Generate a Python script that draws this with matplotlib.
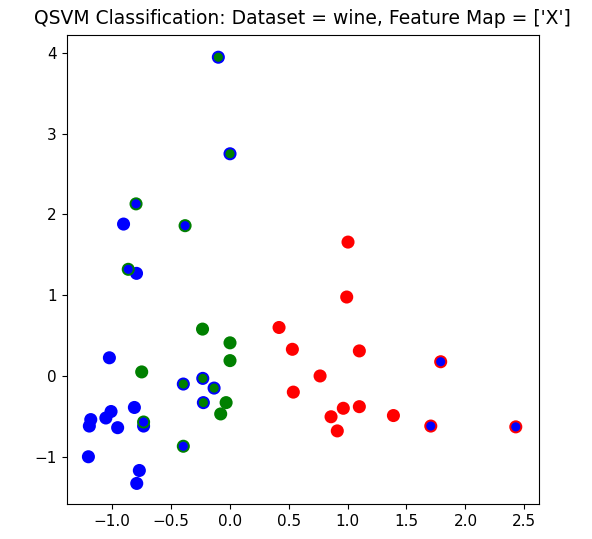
"""Resultado de clasificación QSVM sobre el dataset wine (2 componentes)."""

import matplotlib

matplotlib.use("Agg")
import matplotlib.pyplot as plt
import numpy as np

# colores por clase: 0 -> blue, 1 -> green, 2 -> red
class_colors = np.array(["blue", "green", "red"])

# coordenadas de los puntos de prueba
x_values = [
    -0.90, -0.79, -1.02, -0.808, -1.006, -1.05, -1.178, -1.19, -0.95, -0.73,
    -1.198, -0.766, -0.788,
    -0.794, -0.378, -0.86, -0.73, -0.393,
    -0.096, 0.003, -0.393, -0.228, -0.132, -0.223,
    -0.23, 0.003, 0.003, -0.746, -0.03, -0.076,
    1.004, 0.993, 0.419, 0.532, 1.10, 0.767, 0.54, 0.964, 1.10, 0.86, 1.389, 0.913,
    1.79, 1.706, 2.427,
]
y_values = [
    1.88, 1.27, 0.225, -0.39, -0.44, -0.52, -0.54, -0.62, -0.64, -0.62,
    -1.00, -1.17, -1.33,
    2.13, 1.86, 1.32, -0.57, -0.87,
    3.945, 2.75, -0.10, -0.03, -0.15, -0.33,
    0.58, 0.41, 0.19, 0.05, -0.33, -0.47,
    1.657, 0.977, 0.60, 0.33, 0.31, 0.0, -0.20, -0.40, -0.38, -0.505, -0.49, -0.68,
    0.176, -0.62, -0.63,
]
# etiqueta predicha (relleno) y etiqueta real (borde)
predicted = [0] * 13 + [0] * 5 + [1] * 6 + [1] * 6 + [2] * 12 + [0] * 3
actual = [0] * 13 + [1] * 5 + [0] * 6 + [1] * 6 + [2] * 12 + [2] * 3

title = "QSVM Classification: Dataset = wine, Feature Map = ['X']"

fig = plt.figure(figsize=(5.92, 5.39), dpi=100)
ax = fig.add_axes([0.1127, 0.0649, 0.7978, 0.870])

ax.scatter(
    x_values,
    y_values,
    s=64,
    c=class_colors[predicted],
    edgecolors=class_colors[actual],
    linewidths=1.4,
)

ax.set_xlim(-1.382, 2.624)
ax.set_ylim(-1.585, 4.219)
ax.set_xticks(np.arange(-1.0, 2.51, 0.5))
ax.set_yticks(np.arange(-1, 5, 1))
ax.tick_params(labelsize=11)
ax.set_title(title, fontsize=13.5, pad=8)

fig.savefig("out.png", dpi=100)
